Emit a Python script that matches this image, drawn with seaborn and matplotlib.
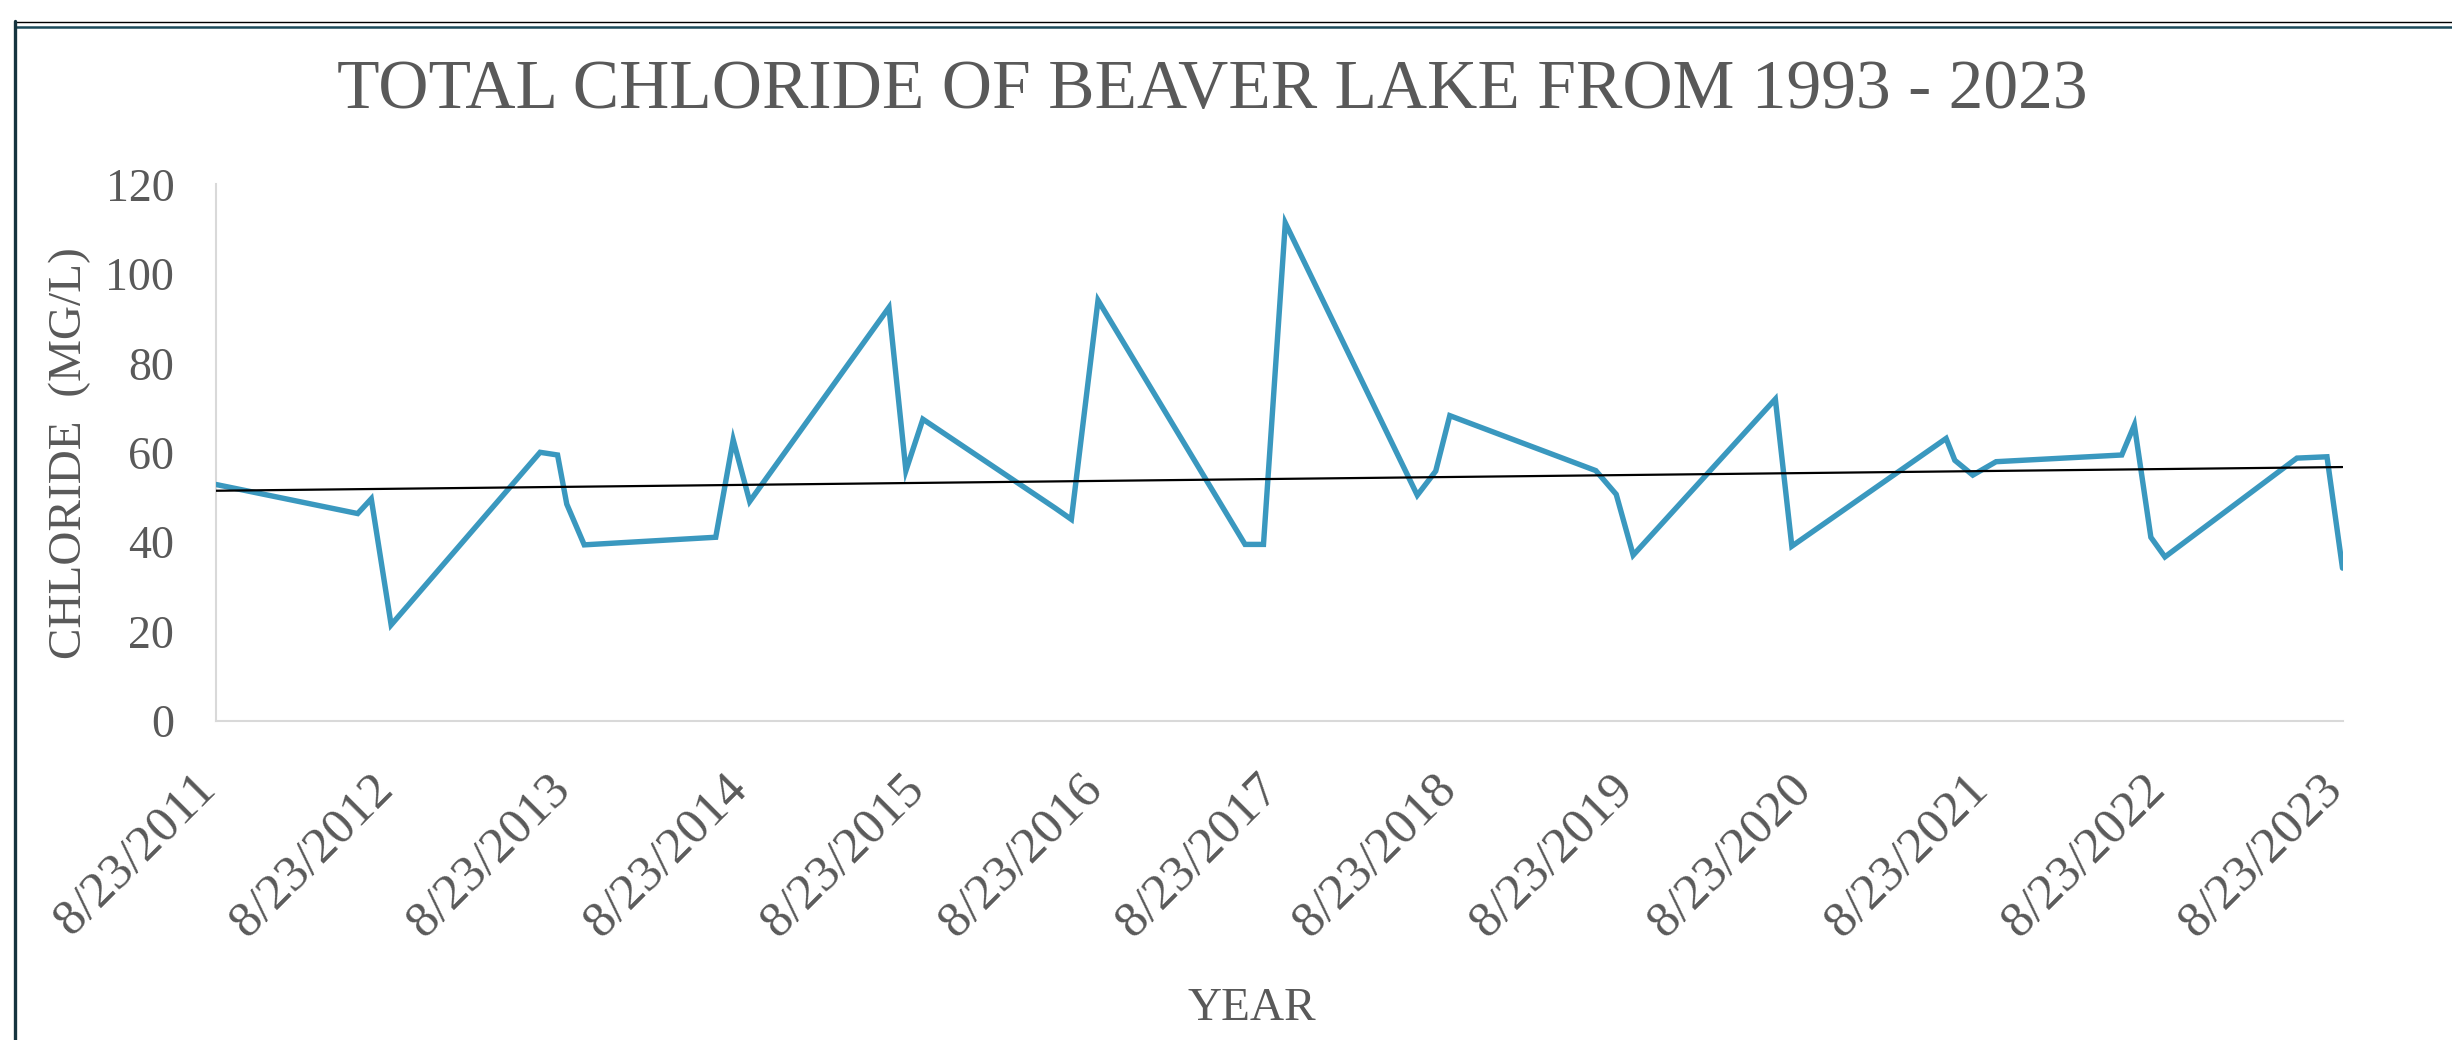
import numpy as np
import pandas as pd
import matplotlib
matplotlib.use("Agg")
import matplotlib.pyplot as plt
import matplotlib.dates as mdates
import matplotlib.transforms as mtransforms
from matplotlib.lines import Line2D
import seaborn as sns

# ---- data ----
sample_dates = ["2011-08-23", "2012-06-10", "2012-07-08", "2012-08-18", "2013-06-21",
                "2013-07-27", "2013-08-15", "2013-09-20", "2014-06-18", "2014-07-24",
                "2014-08-27", "2015-06-10", "2015-07-15", "2015-08-19", "2016-05-18",
                "2016-06-20", "2016-08-14", "2017-06-13", "2017-07-21", "2017-09-04",
                "2018-06-03", "2018-07-11", "2018-08-09", "2019-06-06", "2019-07-18",
                "2019-08-22", "2020-06-10", "2020-07-14", "2021-05-28", "2021-06-15",
                "2021-07-22", "2021-09-08", "2022-05-25", "2022-06-20", "2022-07-24",
                "2022-08-22", "2023-05-21", "2023-07-22", "2023-08-23"]
chloride = [52.9, 46.4, 49.7, 21.5, 60.1, 59.5, 48.5, 39.4, 41.1, 62.9,
            49.1, 92.5, 56.0, 67.5, 47.6, 45.1, 94.1, 39.5, 39.5, 111.4,
            50.5, 55.9, 68.3, 56.0, 50.7, 37.1, 72.0, 39.1, 63.2, 58.3,
            55.0, 58.0, 59.5, 66.2, 41.1, 36.7, 58.8, 59.1, 34.2]
# linear trendline as shown in the reference (value at first and last date)
trend_dates = ["2011-08-23", "2023-08-23"]
trend_values = [51.5, 56.8]

tick_dates = ["2011-08-23", "2012-08-23", "2013-08-23", "2014-08-23", "2015-08-23",
              "2016-08-23", "2017-08-23", "2018-08-23", "2019-08-23", "2020-08-23",
              "2021-08-23", "2022-08-23", "2023-08-23"]
tick_labels = ["8/23/2011", "8/23/2012", "8/23/2013", "8/23/2014", "8/23/2015",
               "8/23/2016", "8/23/2017", "8/23/2018", "8/23/2019", "8/23/2020",
               "8/23/2021", "8/23/2022", "8/23/2023"]
y_ticks = [0, 20, 40, 60, 80, 100, 120]

title = "TOTAL CHLORIDE OF BEAVER LAKE FROM 1993 - 2023"
ylabel = "CHLORIDE  (MG/L)"
xlabel = "YEAR"

# ---- style ----
sns.set_theme(style="white")
plt.rcParams["font.family"] = ["Liberation Serif", "DejaVu Serif"]
TXT = "#595959"
LINE = "#3A98BF"
AXC = "#D9D9D9"

W, H = 2452, 1040
fig = plt.figure(figsize=(W / 100, H / 100), dpi=100)
fig.patch.set_facecolor("white")
ax = fig.add_axes([216 / W, 1 - 721 / H, (2342.5 - 216) / W, (721 - 184.5) / H])

df = pd.DataFrame({"date": pd.to_datetime(sample_dates), "chloride": chloride})
df["num"] = mdates.date2num(df["date"])
tr = pd.DataFrame({"num": mdates.date2num(pd.to_datetime(trend_dates)),
                   "value": trend_values})

sns.lineplot(data=df, x="num", y="chloride", ax=ax, color=LINE, linewidth=3.9,
             solid_joinstyle="miter", solid_capstyle="round", zorder=3)
sns.lineplot(data=tr, x="num", y="value", ax=ax, color="black", linewidth=1.6, zorder=4)

tnums = mdates.date2num(pd.to_datetime(tick_dates))
ax.set_xlim(tnums[0], tnums[-1])
ax.set_ylim(0, 120)
ax.set_xticks(tnums)
ax.set_xticklabels(tick_labels, rotation=45, ha="right", va="top")
ax.set_yticks(y_ticks)
ax.set_yticklabels([str(v) for v in y_ticks])
ax.tick_params(axis="x", length=0, pad=32, labelsize=37, labelcolor=TXT)
ax.tick_params(axis="y", length=0, pad=30, labelsize=33, labelcolor=TXT)
shift = mtransforms.ScaledTranslation(9 / 100, 0, fig.dpi_scale_trans)
for lab in ax.get_xticklabels():
    lab.set_transform(lab.get_transform() + shift)
ax.set_xlabel("")
ax.set_ylabel("")
ax.grid(False)
for s in ["top", "right"]:
    ax.spines[s].set_visible(False)
for s in ["left", "bottom"]:
    ax.spines[s].set_color(AXC)
    ax.spines[s].set_linewidth(1.5)

fig.text(1212 / W, 1 - 108 / H, title, ha="center", va="baseline",
         fontsize=50, color=TXT)
fig.text(70 / W, 1 - 453 / H, ylabel, ha="center", va="center", rotation=90,
         fontsize=34, color=TXT)
fig.text(1252 / W, 1 - 1020 / H, xlabel, ha="center", va="baseline",
         fontsize=34, color=TXT)

# chart frame (partly cropped in the reference)
fig.add_artist(Line2D([15 / W, 1], [1 - 21.7 / H, 1 - 21.7 / H], transform=fig.transFigure,
                      color="black", linewidth=1.0))
fig.add_artist(Line2D([15 / W, 1], [1 - 27 / H, 1 - 27 / H], transform=fig.transFigure,
                      color="#1C4A5A", linewidth=1.8))
fig.add_artist(Line2D([15 / W, 15 / W], [1 - 21 / H, 0], transform=fig.transFigure,
                      color="#16343F", linewidth=2.4))

fig.savefig("out.png", dpi=100, facecolor="white")
